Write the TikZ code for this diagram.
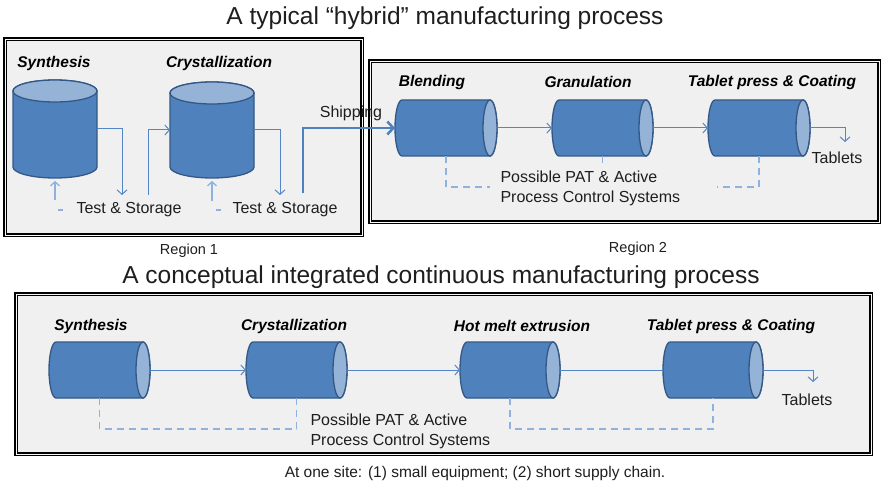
\documentclass[tikz,border=0pt]{standalone}
\usepackage{fontspec}
\setmainfont{Liberation Sans}
\usetikzlibrary{arrows.meta}

\definecolor{canfill}{RGB}{79,129,189}
\definecolor{canline}{RGB}{52,88,134}
\definecolor{canend}{RGB}{149,179,215}
\definecolor{flowblue}{RGB}{84,134,198}
\definecolor{dashblue}{RGB}{141,178,222}
\definecolor{panel}{RGB}{240,240,240}
\definecolor{ink}{RGB}{30,30,30}

\tikzset{
  panelfill/.style={fill=panel},
  panelouter/.style={draw=black, line width=3.4pt},
  panelinner/.style={draw=white!60!panel, line width=0.9pt},
  canstyle/.style={fill=canfill, draw=canline, line width=1.3pt},
  canendstyle/.style={fill=canend, draw=canline, line width=1.3pt},
  canhull/.style={shape=rectangle, inner sep=0pt, outer sep=0pt, draw=none},
  stagelabel/.style={font=\fontsize{15.5}{18}\selectfont\bfseries\itshape, text=black},
  bodytext/.style={font=\fontsize{16}{20}\selectfont, text=ink},
  titletext/.style={font=\fontsize{24.5}{28}\selectfont, text=ink},
  regiontext/.style={font=\fontsize{14.5}{17}\selectfont, text=ink},
  footertext/.style={font=\fontsize{15.5}{18}\selectfont, text=ink},
  flow/.style={draw=flowblue, line width=1pt, -{Straight Barb[length=4.5pt,width=10pt]}},
  plainflow/.style={draw=flowblue, line width=1pt},
  ctrl/.style={draw=dashblue, line width=1.3pt, dash pattern=on 7pt off 5pt},
  ctrlup/.style={draw=dashblue, line width=1.3pt, dash pattern=on 5pt off 13pt on 24pt,
    -{Straight Barb[length=4pt,width=9pt]}, shorten >=3pt},
  ship/.style={draw=canfill, line width=2.5pt, -{Straight Barb[length=6pt,width=13pt]}}
}

% framed panel with a double border: two opposite corners
\newcommand{\Panel}[2]{%
  \path[panelfill] #1 rectangle #2;
  \draw[panelouter] #1 rectangle #2;
  \draw[panelinner] #1 rectangle #2;
}

% horizontal vessel: name, left x, right x, centre y
\newcommand{\HCan}[4]{%
  \filldraw[canstyle] (#2+7,#4-28) -- (#3-7,#4-28)
    arc[start angle=90,end angle=-90,x radius=7pt,y radius=28pt]
    -- (#2+7,#4+28)
    arc[start angle=270,end angle=90,x radius=7pt,y radius=28pt] -- cycle;
  \filldraw[canendstyle] (#3-7,#4) ellipse[x radius=7pt,y radius=28pt];
  \node[canhull, minimum width={(#3-#2)*1pt}, minimum height=56pt] (#1) at ({(#2+#3)/2},#4) {};
}

% upright vessel: name, centre x, top ellipse y, bottom ellipse y
\newcommand{\VCan}[4]{%
  \filldraw[canstyle] (#2-42,#3) -- (#2-42,#4)
    arc[start angle=180,end angle=360,x radius=42pt,y radius=11pt]
    -- (#2+42,#3)
    arc[start angle=0,end angle=180,x radius=42pt,y radius=11pt] -- cycle;
  \filldraw[canendstyle] (#2,#3) ellipse[x radius=42pt,y radius=11pt];
  \node[canhull, minimum width=84pt, minimum height={(#4-#3+22)*1pt}] (#1) at (#2,{(#3+#4)/2}) {};
}

\begin{document}
\begin{tikzpicture}[x=1pt,y=-1pt]
\useasboundingbox (0,0) rectangle (883,481);
\fill[white] (0,0) rectangle (883,481);

% ---------- upper half: hybrid process ----------
\node[titletext] (title1) at (445,18) {A typical “hybrid” manufacturing process};

\Panel{(5,39)}{(362,235)}
\Panel{(370,61)}{(879,222)}

\node[regiontext] (reg1) at (189,251) {Region 1};
\node[regiontext] (reg2) at (638,249) {Region 2};

% region 1: batch vessels
\node[stagelabel] (lsyn1) at (54,63) {Synthesis};
\node[stagelabel] (lcry1) at (219,63) {Crystallization};
\VCan{syn1}{55}{91}{167}
\VCan{cry1}{212}{93}{167}

\node[bodytext] (ts1) at (129,210) {Test \& Storage};
\node[bodytext] (ts2) at (285,210) {Test \& Storage};

\coordinate (ts1in) at (122,195);
\coordinate (ts1out) at (148,195);
\coordinate (ts2in) at (280,195);
\coordinate (shipfoot) at (303,193);
\coordinate (ts1q) at (63,210);
\coordinate (ts2q) at (221,210);

\draw[flow] (syn1.east) -| (ts1in);
\draw[flow] (ts1out) |- (cry1.west);
\draw[flow] (cry1.east) -| (ts2in);
\draw[ctrlup] (ts1q) -| (syn1.south);
\draw[ctrlup] (ts2q) -| (cry1.south);

% region 2: continuous drug-product train
\node[stagelabel] (lblend) at (432,82) {Blending};
\node[stagelabel] (lgran) at (588,82) {Granulation};
\node[stagelabel] (ltab1) at (772,82) {Tablet press \& Coating};
\HCan{blend}{395}{497}{128}
\HCan{gran}{552}{653}{128}
\HCan{tab1}{708}{810}{128}

\node[bodytext] (shiplbl) at (351,113) {Shipping};
\draw[ship] (shipfoot) |- (blend.west);

\draw[flow] (blend.east) -- (gran.west);
\draw[flow] (gran.east) -- (tab1.west);
\coordinate (out1) at (845,142);
\draw[flow] (tab1.east) -| (out1);
\node[bodytext] (tabl1) at (837,158) {Tablets};

\coordinate (pat1) at (490,187);
\coordinate (pat3) at (717,187);
\draw[ctrl] (blend.south) |- (pat1);
\draw[ctrl] (gran.south) -- ++(0,7);
\draw[ctrl] (tab1.south) |- (pat3);
\node[bodytext, align=left, anchor=west] (pat) at (497,188) {Possible PAT \& Active\\Process Control Systems};

% ---------- lower half: integrated continuous process ----------
\node[titletext] (title2) at (441,277) {A conceptual integrated continuous manufacturing process};

\Panel{(16,294)}{(871,454)}

\node[stagelabel] (lsyn2) at (91,326) {Synthesis};
\node[stagelabel] (lcry2) at (294,326) {Crystallization};
\node[stagelabel] (lhme) at (522,326) {Hot melt extrusion};
\node[stagelabel] (ltab2) at (731,326) {Tablet press \& Coating};

\HCan{syn2}{49}{150}{370}
\HCan{cry2}{246}{347}{370}
\HCan{hme}{460}{560}{370}
\HCan{tab2}{663}{763}{370}

\draw[flow] (syn2.east) -- (cry2.west);
\draw[flow] (cry2.east) -- (hme.west);
\draw[plainflow] (hme.east) -- (tab2.west);
\coordinate (out2) at (813,382);
\draw[flow] (tab2.east) -| (out2);
\node[bodytext] (tabl2) at (807,400) {Tablets};

\coordinate (loopa) at (200,429);
\coordinate (loopb) at (610,429);
\draw[ctrl] (syn2.south) |- (loopa) -| (cry2.south);
\draw[ctrl] (hme.south) |- (loopb) -| (tab2.south);
\node[bodytext, align=left, anchor=west] (pat2) at (307,431) {Possible PAT \& Active\\Process Control Systems};

\node[footertext] (foot) at (475,473) {At one site: (1) small equipment; (2) short supply chain.};
\end{tikzpicture}
\end{document}
